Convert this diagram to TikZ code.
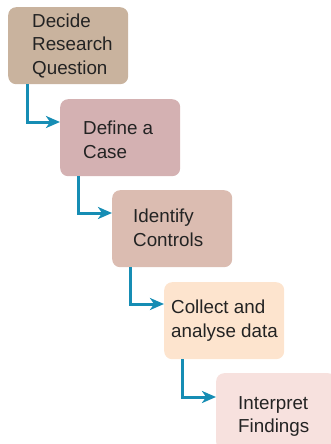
\documentclass[tikz,border=0pt]{standalone}
\usepackage{fontspec}
\setmainfont{Liberation Sans}
\usetikzlibrary{calc,arrows.meta}
\definecolor{stepA}{RGB}{201,179,158}
\definecolor{stepB}{RGB}{212,177,178}
\definecolor{stepC}{RGB}{219,188,177}
\definecolor{stepD}{RGB}{253,228,206}
\definecolor{stepE}{RGB}{247,225,222}
\definecolor{flowblue}{RGB}{22,141,180}
\definecolor{ink}{RGB}{35,35,35}
\tikzset{
  stagebox/.style={fill=#1, draw=none, rounded corners=8pt, anchor=north west,
    minimum width=120pt, minimum height=77pt, inner sep=0pt},
  stagetext/.style={anchor=west, align=left, inner sep=0pt, text=ink,
    font=\fontsize{18.8}{23.3}\selectfont},
  flow/.style={draw=flowblue, line width=3pt,
    -{Stealth[length=14pt,width=12pt,inset=4pt]}},
}
\begin{document}
\begin{tikzpicture}[x=1pt,y=-1pt]
  \useasboundingbox (0,0) rectangle (331,444);
  \clip (0,0) rectangle (331,444);

  % stage boxes, stepping down and to the right
  \node[stagebox=stepA] (b1) at (8,7) {};
  \node[stagebox=stepB] (b2) at (60,99) {};
  \node[stagebox=stepC] (b3) at (112,190) {};
  \node[stagebox=stepD] (b4) at (164,282) {};
  \node[stagebox=stepE] (b5) at (216,373) {};

  % labels
  \node[stagetext] (t1) at ($(b1.west)+(24,0)$) {Decide\\Research\\Question};
  \node[stagetext] (t2) at ($(b2.west)+(23,2)$) {Define a\\Case};
  \node[stagetext] (t3) at ($(b3.west)+(21,-1)$) {Identify\\Controls};
  \node[stagetext] (t4) at ($(b4.west)+(7,0)$) {Collect and\\analyse data};
  \node[stagetext] (t5) at ($(b5.west)+(22,5)$) {Interpret\\Findings};

  % elbow connectors
  \coordinate (s1) at ($(b1.south west)+(19,0)$);
  \coordinate (s2) at ($(b2.south west)+(18,0)$);
  \coordinate (s3) at ($(b3.south west)+(18,0)$);
  \coordinate (s4) at ($(b4.south west)+(18,0)$);
  \draw[flow] (s1) |- ($(b2.north west)+(0,23)$);
  \draw[flow] (s2) |- ($(b3.north west)+(0,23)$);
  \draw[flow] (s3) |- ($(b4.north west)+(0,22)$);
  \draw[flow] (s4) |- ($(b5.north west)+(0,24)$);
\end{tikzpicture}
\end{document}
